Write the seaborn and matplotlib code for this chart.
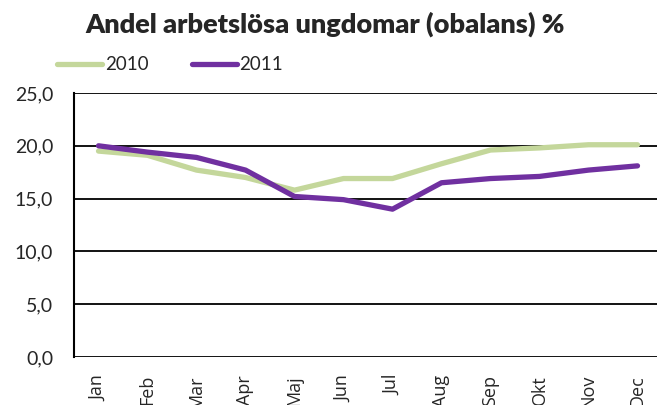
import pandas as pd
import numpy as np
import matplotlib.pyplot as plt
import seaborn as sns
from matplotlib.ticker import FuncFormatter
from matplotlib.lines import Line2D

months = ['Jan', 'Feb', 'Mar', 'Apr', 'Maj', 'Jun', 'Jul', 'Aug', 'Sep', 'Okt', 'Nov', 'Dec']
v2010 = [19.5, 19.1, 17.7, 17.0, 15.8, 16.9, 16.9, 18.3, 19.6, 19.8, 20.1, 20.1]
v2011 = [20.0, 19.4, 18.9, 17.7, 15.2, 14.9, 14.0, 16.5, 16.9, 17.1, 17.7, 18.1]

sns.set_style("white")
plt.rcParams['font.family'] = ['Lato', 'DejaVu Sans']

df = pd.DataFrame({
    'month': months * 2,
    'x': list(range(12)) * 2,
    'value': v2010 + v2011,
    'year': ['2010'] * 12 + ['2011'] * 12,
})

fig = plt.figure(figsize=(6.57, 4.05), dpi=100)
ax = fig.add_axes([74 / 657, 1 - 357 / 405, 588 / 657, 264 / 405])

sns.lineplot(data=df, x='x', y='value', hue='year',
             palette={'2010': '#C4D79B', '2011': '#7030A0'},
             linewidth=3.8, ax=ax, legend=False)

ax.set_xlim(-0.5, 11.5)
ax.set_ylim(0, 25)
ax.set_yticks(np.arange(0, 26, 5))
ax.yaxis.set_major_formatter(FuncFormatter(lambda v, p: f'{v:.1f}'.replace('.', ',')))
ax.set_xticks(range(12))
ax.set_xticklabels(months, rotation=90, fontsize=13, family=['Open Sans', 'DejaVu Sans'])
ax.tick_params(axis='y', labelsize=14, length=0, pad=15)
ax.tick_params(axis='x', length=0, pad=13)
ax.set_xlabel('')
ax.set_ylabel('')
ax.grid(axis='y', color='black', linewidth=1.3)
for s in ['top', 'right', 'bottom']:
    ax.spines[s].set_visible(False)
ax.spines['left'].set_color('black')
ax.spines['left'].set_linewidth(1.5)
ax.set_axisbelow(True)

fig.text(325 / 657, 1 - 24 / 405, 'Andel arbetslösa ungdomar (obalans) %',
         ha='center', va='center', fontsize=19.5, fontweight='heavy')

handles = [Line2D([], [], color='#C4D79B', linewidth=3.8, solid_capstyle='round'),
           Line2D([], [], color='#7030A0', linewidth=3.8, solid_capstyle='round')]
fig.legend(handles, ['2010', '2011'], loc='center left', bbox_to_anchor=(57 / 657, 1 - 65 / 405),
           ncol=2, frameon=False, fontsize=13.5, handlelength=2.4, handletextpad=0.15,
           columnspacing=2.3, borderaxespad=0, borderpad=0)

fig.savefig('out.png', dpi=100)
